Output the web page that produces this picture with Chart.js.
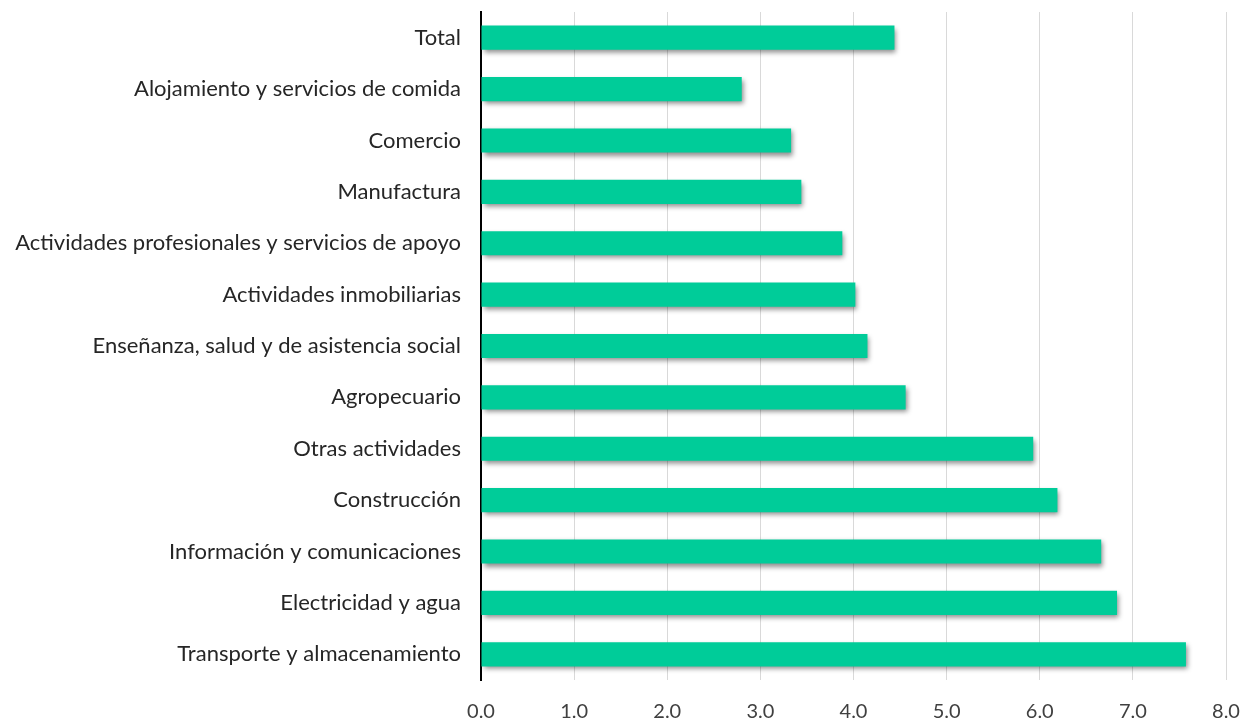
<!DOCTYPE html>
<html>
<head>
<meta charset="utf-8">
<script src="https://cdn.jsdelivr.net/npm/chart.js@4.4.1/dist/chart.umd.min.js"></script>
<style>
    body { margin: 0; background: #fff; }
    #wrap { width: 1250px; height: 723px; }
</style>
</head>
<body>
<div id="wrap"><canvas id="barChart" width="1250" height="723"></canvas></div>
<script>
// Datos
const sectores = [
    'Total',
    'Alojamiento y servicios de comida',
    'Comercio',
    'Manufactura',
    'Actividades profesionales y servicios de apoyo',
    'Actividades inmobiliarias',
    'Enseñanza, salud y de asistencia social',
    'Agropecuario',
    'Otras actividades',
    'Construcción',
    'Información y comunicaciones',
    'Electricidad y agua',
    'Transporte y almacenamiento'
];
const valores = [4.44, 2.80, 3.33, 3.44, 3.88, 4.02, 4.15, 4.56, 5.93, 6.19, 6.66, 6.83, 7.57];
const ejeMin = 0;
const ejeMax = 8;
const ejePaso = 1;

// Sombra de las barras
const sombraBarras = {
    id: 'sombraBarras',
    beforeDatasetsDraw(chart) {
        const ctx = chart.ctx;
        ctx.save();
        ctx.shadowColor = 'rgba(0, 0, 0, 0.45)';
        ctx.shadowBlur = 5;
        ctx.shadowOffsetX = 2;
        ctx.shadowOffsetY = 3;
    },
    afterDatasetsDraw(chart) {
        chart.ctx.restore();
    }
};

const fuente = "Lato, 'Open Sans', sans-serif";

new Chart(document.getElementById('barChart'), {
    type: 'bar',
    data: {
        labels: sectores,
        datasets: [{
            data: valores,
            backgroundColor: '#00CC99',
            borderWidth: 0,
            barPercentage: 0.94,
            categoryPercentage: 0.5
        }]
    },
    options: {
        indexAxis: 'y',
        responsive: false,
        animation: false,
        layout: { padding: { top: 12, right: 24, left: 0, bottom: 0 } },
        plugins: {
            legend: { display: false },
            tooltip: { enabled: false }
        },
        scales: {
            x: {
                min: ejeMin,
                max: ejeMax,
                ticks: {
                    stepSize: ejePaso,
                    padding: 20,
                    color: '#404040',
                    font: { family: fuente, size: 20 },
                    callback: v => v.toFixed(1)
                },
                grid: { color: '#d9d9d9', lineWidth: 1, drawTicks: false },
                border: { display: false },
                afterFit: s => {
                    s.height = 43;
                    s.paddingLeft = 0;
                    s.paddingRight = 0;
                }
            },
            y: {
                ticks: {
                    padding: 20,
                    color: '#262626',
                    font: { family: fuente, size: 22 }
                },
                grid: { display: false, drawTicks: false },
                border: { display: true, color: '#000', width: 2 },
                afterFit: s => {
                    s.width = 481;
                    s.paddingTop = 0;
                    s.paddingBottom = 0;
                }
            }
        }
    },
    plugins: [sombraBarras]
});
</script>
</body>
</html>
